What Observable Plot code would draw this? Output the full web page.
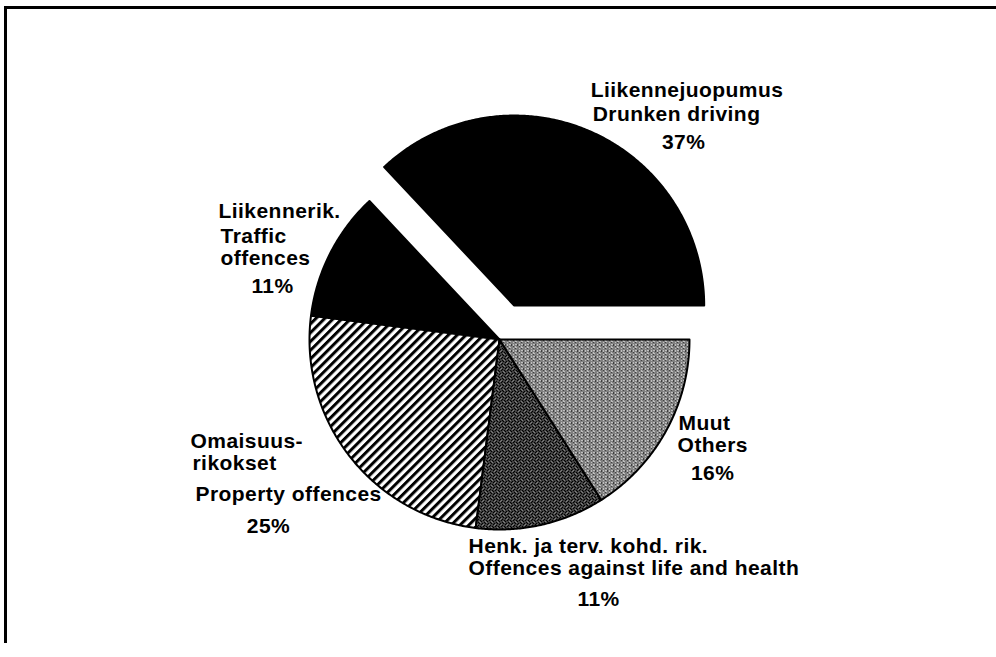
<!DOCTYPE html>
<html>
<head>
<meta charset="utf-8">
<script src="https://cdn.jsdelivr.net/npm/d3@7"></script>
<script src="https://cdn.jsdelivr.net/npm/@observablehq/plot@0.6"></script>
<style>
  html, body { margin: 0; padding: 0; background: #fff; overflow: hidden; }
  #wrap { position: relative; width: 996px; height: 657px; }
  #frame { position: absolute; left: 4px; top: 6px; width: 1000px; height: 634px;
           border-top: 3px solid #000; border-left: 3px solid #000; }
  #chart { position: absolute; left: 0; top: 0; }
  #chart text { letter-spacing: 0.45px; }
</style>
</head>
<body>
<svg width="0" height="0" style="position:absolute">
  <defs>
    <pattern id="hatch" patternUnits="userSpaceOnUse" width="6.2" height="6.2" patternTransform="rotate(45)">
      <rect width="6.2" height="6.2" fill="#fff"/>
      <rect x="0" y="0" width="3" height="6.2" fill="#000"/>
    </pattern>
    <pattern id="dark" patternUnits="userSpaceOnUse" width="6" height="6">
      <rect width="6" height="6" fill="#000"/>
      <rect x="0" y="0" width="1" height="1" fill="#fff"/>
      <rect x="3" y="1" width="1" height="1" fill="#fff"/>
      <rect x="5" y="2" width="1" height="1" fill="#fff"/>
      <rect x="1" y="3" width="1" height="1" fill="#fff"/>
      <rect x="4" y="4" width="1" height="1" fill="#fff"/>
      <rect x="2" y="5" width="1" height="1" fill="#fff"/>
      <rect x="2" y="2" width="1" height="1" fill="#fff"/>
      <rect x="5" y="5" width="1" height="1" fill="#fff"/>
    </pattern>
    <pattern id="gray" patternUnits="userSpaceOnUse" width="6" height="6">
      <rect width="6" height="6" fill="#fff"/>
      <rect x="0" y="0" width="1" height="1" fill="#000"/>
      <rect x="2" y="0" width="1" height="1" fill="#000"/>
      <rect x="4" y="0" width="2" height="1" fill="#000"/>
      <rect x="1" y="1" width="1" height="1" fill="#000"/>
      <rect x="3" y="1" width="1" height="1" fill="#000"/>
      <rect x="0" y="2" width="2" height="1" fill="#000"/>
      <rect x="4" y="2" width="1" height="1" fill="#000"/>
      <rect x="1" y="3" width="1" height="1" fill="#000"/>
      <rect x="3" y="3" width="1" height="1" fill="#000"/>
      <rect x="5" y="3" width="1" height="1" fill="#000"/>
      <rect x="0" y="4" width="1" height="1" fill="#000"/>
      <rect x="2" y="4" width="2" height="1" fill="#000"/>
      <rect x="1" y="5" width="1" height="1" fill="#000"/>
      <rect x="4" y="5" width="1" height="1" fill="#000"/>
    </pattern>
  </defs>
</svg>
<div id="wrap"><div id="frame"></div><div id="chart"></div></div>
<script>
// ---- data ----
const categories = [
  "Liikennejuopumus / Drunken driving",
  "Liikennerik. / Traffic offences",
  "Omaisuusrikokset / Property offences",
  "Henk. ja terv. kohd. rik. / Offences against life and health",
  "Muut / Others"
];
const shares = [37, 11, 25, 11, 16];
const labelLines = [
  ["Liikennejuopumus", "Drunken driving"],
  ["Liikennerik.", "Traffic", "offences"],
  ["Omaisuus-", "rikokset", "Property offences"],
  ["Henk. ja terv. kohd. rik.", "Offences against life and health"],
  ["Muut", "Others"]
];

// ---- layout / style ----
const L = {cx: 499, cy: 339, r: 190, explode: 37, fontSize: 21};
const fills = ["#000", "#000", "url(#hatch)", "url(#dark)", "url(#gray)"];
const exploded = [true, false, false, false, false];
// per line: [anchor, dx, dy-to-baseline] in px, relative to the slice's mid-rim point; last entry = percentage
const labelOffsets = [
  [["start", 1, -34.6], ["start", 3, -10.6], ["middle", 94, 17.4]],
  [["start", -111.7, -35.7], ["start", -109.7, -10.2], ["start", -109.7, 11.3], ["middle", -57.7, 39.3]],
  [["start", -158.9, -8.4], ["start", -156.9, 13.6], ["start", -153.9, 44.6], ["middle", -80.9, 76.6]],
  [["start", -72.4, 28.1], ["start", -72.4, 49.6], ["middle", 57.6, 80.6]],
  [["start", 12.6, -0.6], ["start", 11.6, 21.4], ["middle", 46.6, 49.4]]
];

// ---- geometry from the values ----
const pie = d3.pie().sort(null).value(d => d)
  .startAngle(Math.PI / 2).endAngle(Math.PI / 2 - 2 * Math.PI);
const arcs = pie(shares);
const step = Math.PI / 360;
const slicePts = [];
const labelRows = [];
arcs.forEach((a, i) => {
  const mid = (a.startAngle + a.endAngle) / 2;
  const off = exploded[i] ? L.explode / L.r : 0;
  const ox = off * Math.sin(mid), oy = off * Math.cos(mid);
  const name = categories[i];
  slicePts.push({name, x: ox, y: oy});
  const n = Math.ceil(Math.abs(a.endAngle - a.startAngle) / step);
  for (let k = 0; k <= n; k++) {
    const t = a.startAngle + (a.endAngle - a.startAngle) * k / n;
    slicePts.push({name, x: ox + Math.sin(t), y: oy + Math.cos(t)});
  }
  slicePts.push({name, x: ox, y: oy});
  const rx = ox + Math.sin(mid), ry = oy + Math.cos(mid);
  const texts = [...labelLines[i], `${shares[i]}%`];
  texts.forEach((t, j) => {
    const [anchor, dx, dy] = labelOffsets[i][j];
    labelRows.push({
      text: t, anchor,
      x: rx + dx / L.r,
      y: ry - (dy - 0.32 * L.fontSize) / L.r
    });
  });
});

const textStyle = {fontSize: L.fontSize, fontWeight: "bold", fill: "#000", lineAnchor: "middle"};

const chart = Plot.plot({
  width: 996, height: 657, margin: 0,
  x: {domain: [-1, 1], range: [L.cx - L.r, L.cx + L.r], axis: null},
  y: {domain: [-1, 1], range: [L.cy + L.r, L.cy - L.r], axis: null},
  color: {domain: categories, range: fills},
  style: {background: "transparent", fontFamily: "'Liberation Sans', Arial, Helvetica, sans-serif"},
  marks: [
    Plot.line(slicePts, {x: "x", y: "y", z: "name", fill: "name", stroke: "#000",
      strokeWidth: 2, strokeLinejoin: "round"}),
    Plot.text(labelRows.filter(d => d.anchor === "start"), {x: "x", y: "y", text: "text", textAnchor: "start", ...textStyle}),
    Plot.text(labelRows.filter(d => d.anchor === "middle"), {x: "x", y: "y", text: "text", textAnchor: "middle", ...textStyle})
  ]
});
document.getElementById("chart").appendChild(chart);
</script>
</body>
</html>
